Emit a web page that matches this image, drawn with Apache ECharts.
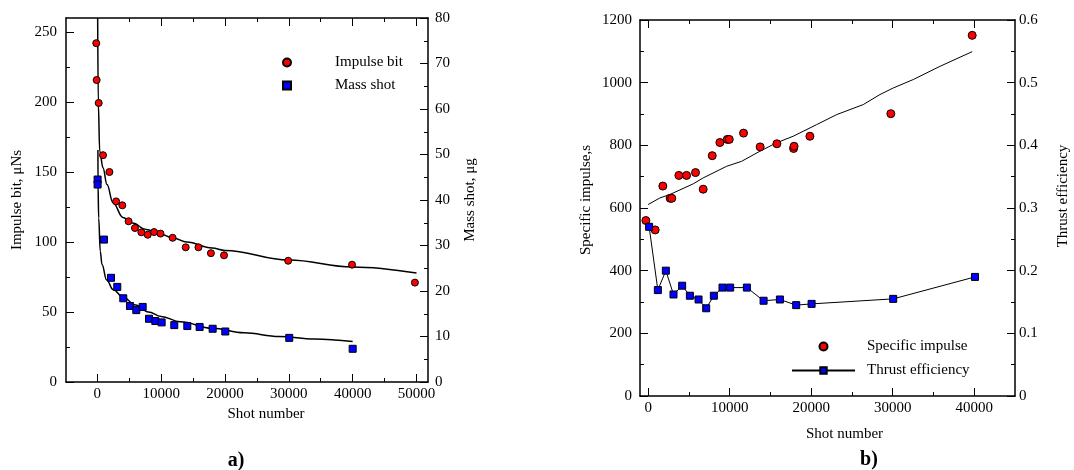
<!DOCTYPE html>
<html>
<head>
<meta charset="utf-8">
<script src="https://cdn.jsdelivr.net/npm/echarts@6/dist/echarts.min.js"></script>
<style>
  html, body { margin: 0; padding: 0; background: #fff; }
  #chart { width: 1074px; height: 470px; }
</style>
</head>
<body>
<div id="chart"></div>
<script>
// ---- panel a) impulse bit / mass shot vs shot number
const impulseShots = [-160, -100, 220, 900, 1900, 2950, 3920, 4900, 5900, 6900, 7900, 8900, 9900, 11800, 13850, 15850, 17800, 19850, 29900, 39900, 49750];
const impulseBit = [242, 215.7, 199.3, 162, 150, 129, 126.2, 114.8, 110, 106.9, 105.2, 107.1, 106, 103, 96.2, 96.2, 92, 90.5, 86.6, 83.8, 71];
const massShots = [50, 50, 1050, 2150, 3130, 4070, 5120, 6110, 7110, 8100, 9090, 10080, 12060, 14100, 16030, 18070, 20050, 30070, 40000];
const massShot = [44.5, 43.4, 31.3, 22.9, 20.9, 18.4, 16.7, 15.8, 16.5, 13.9, 13.4, 13.1, 12.5, 12.3, 12.1, 11.7, 11.1, 9.7, 7.3];
// fitted curves
const impulseFitShots = [60, 160, 380, 890, 1520, 2460, 4030, 5500, 7630, 9820, 12000, 14000, 18000, 20000, 30000, 40000, 50000];
const impulseFit = [260, 199, 165, 153, 141, 128, 117.5, 113.5, 109, 105.8, 102.6, 100, 95.7, 94, 87.2, 82.2, 77.8];
const massFitShots = [100, 110, 220, 470, 740, 1470, 2500, 4000, 6000, 8000, 10000, 13000, 18000, 23000, 28500, 34000, 40000];
const massFit = [51, 43.4, 36, 28.7, 25.8, 22.4, 20.3, 18.7, 16.9, 15.4, 14.4, 13.25, 11.8, 10.8, 10, 9.45, 8.9];

// ---- panel b) specific impulse / thrust efficiency
const ispShots = [-280, 860, 1800, 2700, 2900, 3770, 4710, 5810, 6750, 7860, 8800, 9700, 9950, 11700, 13740, 15790, 17840, 17900, 19840, 29770, 39750];
const ispValues = [560, 530, 670, 631, 631, 704, 704, 713, 660, 767, 809, 819, 819, 839, 795, 805, 790, 797, 829, 901, 1151];
const effShots = [120, 1190, 2170, 3110, 4170, 5120, 6180, 7120, 8060, 9120, 10060, 12110, 14160, 16160, 18160, 20050, 30060, 40090];
const effValues = [0.270, 0.169, 0.200, 0.162, 0.176, 0.160, 0.154, 0.140, 0.160, 0.173, 0.173, 0.173, 0.152, 0.154, 0.145, 0.147, 0.155, 0.190];
const ispTrendShots = [0, 1430, 2660, 5520, 6750, 9620, 11460, 13700, 15750, 17790, 20660, 23120, 26380, 28430, 30060, 32520, 35790, 39750];
const ispTrend = [611, 632, 643, 677, 696, 733, 749, 781, 808, 829, 866, 898, 930, 962, 983, 1010, 1052, 1099];

// tick positions
const xMajorA = [0, 10000, 20000, 30000, 40000, 50000];
const xMinorA = [5000, 15000, 25000, 35000, 45000];
const xMajorB = [0, 10000, 20000, 30000, 40000];
const xMinorB = [5000, 15000, 25000, 35000];
const impulseTicks = [0, 50, 100, 150, 200, 250];
const impulseMinor = [25, 75, 125, 175, 225];
const massTicks = [0, 10, 20, 30, 40, 50, 60, 70, 80];
const massMinor = [5, 15, 25, 35, 45, 55, 65, 75];
const ispTicks = [0, 200, 400, 600, 800, 1000, 1200];
const ispMinor = [100, 300, 500, 700, 900, 1100];
const effTicks = [0, 0.1, 0.2, 0.3, 0.4, 0.5, 0.6];
const effMinor = [0.05, 0.15, 0.25, 0.35, 0.45, 0.55];

const FONT = 'Liberation Serif';
const zip = (xs, ys) => xs.map((x, i) => [x, ys[i]]);

function axis(o) {
  return {
    type: 'value',
    gridIndex: o.grid,
    position: o.pos,
    min: o.min,
    max: o.max,
    splitLine: { show: false },
    axisLine: { show: !!o.line, onZero: false, lineStyle: { color: '#000', width: 1.5 } },
    axisTick: { show: true, inside: true, length: o.len, customValues: o.ticks, lineStyle: { color: '#000', width: 1 } },
    axisLabel: o.labels ? {
      show: true, customValues: o.ticks, formatter: v => String(v),
      color: '#000', fontFamily: FONT, fontSize: 15, margin: o.margin
    } : { show: false },
    name: o.name || '',
    nameLocation: 'middle',
    nameGap: o.gap,
    nameRotate: o.rot,
    nameTextStyle: { color: '#000', fontFamily: FONT, fontSize: 15, padding: o.namePad || 0 }
  };
}

const chart = echarts.init(document.getElementById('chart'));

chart.setOption({
  animation: false,
  grid: [
    { left: 66, top: 18, width: 362, height: 364 },
    { left: 640, top: 20, width: 375, height: 376 }
  ],
  xAxis: [
    axis({ grid: 0, pos: 'bottom', min: -4900, max: 51800, ticks: xMajorA, len: 8, line: true, labels: true, margin: 5,
      name: 'Shot number', gap: 24, namePad: [0, 0, 0, 38] }),
    axis({ grid: 0, pos: 'bottom', min: -4900, max: 51800, ticks: xMinorA, len: 4 }),
    axis({ grid: 0, pos: 'top', min: -4900, max: 51800, ticks: xMajorA, len: 8, line: true }),
    axis({ grid: 0, pos: 'top', min: -4900, max: 51800, ticks: xMinorA, len: 4 }),
    axis({ grid: 1, pos: 'bottom', min: -1000, max: 45000, ticks: xMajorB, len: 8, line: true, labels: true, margin: 5,
      name: 'Shot number', gap: 31, namePad: [0, 0, 0, 34] }),
    axis({ grid: 1, pos: 'bottom', min: -1000, max: 45000, ticks: xMinorB, len: 4 }),
    axis({ grid: 1, pos: 'top', min: -1000, max: 45000, ticks: xMajorB, len: 8, line: true }),
    axis({ grid: 1, pos: 'top', min: -1000, max: 45000, ticks: xMinorB, len: 4 })
  ],
  yAxis: [
    axis({ grid: 0, pos: 'left', min: 0, max: 260, ticks: impulseTicks, len: 8, line: true, labels: true, margin: 9,
      name: 'Impulse bit, \u03bcNs', gap: 41, rot: 90 }),
    axis({ grid: 0, pos: 'left', min: 0, max: 260, ticks: impulseMinor, len: 4 }),
    axis({ grid: 0, pos: 'right', min: 0, max: 80, ticks: massTicks, len: 8, line: true, labels: true, margin: 7,
      name: 'Mass shot, \u03bcg', gap: 35, rot: 90 }),
    axis({ grid: 0, pos: 'right', min: 0, max: 80, ticks: massMinor, len: 4 }),
    axis({ grid: 1, pos: 'left', min: 0, max: 1200, ticks: ispTicks, len: 8, line: true, labels: true, margin: 8,
      name: 'Specific impulse,s', gap: 46, rot: 90, namePad: [0, 0, 0, 16] }),
    axis({ grid: 1, pos: 'left', min: 0, max: 1200, ticks: ispMinor, len: 4 }),
    axis({ grid: 1, pos: 'right', min: 0, max: 0.6, ticks: effTicks, len: 8, line: true, labels: true, margin: 4,
      name: 'Thrust efficiency', gap: 41, rot: 90, namePad: [0, 0, 0, 24] }),
    axis({ grid: 1, pos: 'right', min: 0, max: 0.6, ticks: effMinor, len: 4 })
  ],
  legend: [
    {
      data: ['Impulse bit', 'Mass shot'],
      orient: 'vertical', left: 277, top: 50,
      itemWidth: 8, itemHeight: 8, itemGap: 8,
      textStyle: { color: '#000', fontFamily: FONT, fontSize: 15, padding: [0, 0, 0, 39] }
    },
    {
      data: ['Specific impulse', 'Thrust efficiency'],
      orient: 'vertical', left: 786, top: 334,
      itemWidth: 63, itemHeight: 8, itemGap: 9,
      textStyle: { color: '#000', fontFamily: FONT, fontSize: 15, padding: [0, 0, 0, 7] }
    }
  ],
  graphic: [
    { type: 'text', x: 236, y: 461, style: { text: 'a)', font: 'bold 20px "Liberation Serif"', fill: '#000', align: 'center', verticalAlign: 'middle' } },
    { type: 'text', x: 869, y: 460, style: { text: 'b)', font: 'bold 20px "Liberation Serif"', fill: '#000', align: 'center', verticalAlign: 'middle' } }
  ],
  series: [
    {
      name: 'Impulse bit fit', type: 'line', xAxisIndex: 0, yAxisIndex: 0,
      data: zip(impulseFitShots, impulseFit), showSymbol: false, smooth: 0.4, smoothMonotone: 'x',
      lineStyle: { color: '#000', width: 1.5 }, z: 2
    },
    {
      name: 'Mass shot fit', type: 'line', xAxisIndex: 0, yAxisIndex: 2,
      data: zip(massFitShots, massFit), showSymbol: false, smooth: 0.4, smoothMonotone: 'x',
      lineStyle: { color: '#000', width: 1.5 }, z: 2
    },
    {
      name: 'Impulse bit', type: 'scatter', xAxisIndex: 0, yAxisIndex: 0,
      data: zip(impulseShots, impulseBit), symbol: 'circle', symbolSize: 7,
      itemStyle: { color: '#ff0000', borderColor: '#000', borderWidth: 1, opacity: 1 }, z: 3
    },
    {
      name: 'Mass shot', type: 'scatter', xAxisIndex: 0, yAxisIndex: 2,
      data: zip(massShots, massShot), symbol: 'rect', symbolSize: 7,
      itemStyle: { color: '#0000ff', borderColor: '#000', borderWidth: 1, opacity: 1 }, z: 3
    },
    {
      name: 'Specific impulse trend', type: 'line', xAxisIndex: 4, yAxisIndex: 4,
      data: zip(ispTrendShots, ispTrend), showSymbol: false,
      lineStyle: { color: '#000', width: 1 }, z: 2
    },
    {
      name: 'Specific impulse', type: 'scatter', xAxisIndex: 4, yAxisIndex: 4,
      data: zip(ispShots, ispValues), symbol: 'circle', symbolSize: 8,
      itemStyle: { color: '#ff0000', borderColor: '#000', borderWidth: 1, opacity: 1 }, z: 3
    },
    {
      name: 'Thrust efficiency', type: 'line', xAxisIndex: 4, yAxisIndex: 6,
      data: zip(effShots, effValues), symbol: 'rect', symbolSize: 7, showSymbol: true,
      lineStyle: { color: '#000', width: 1 },
      itemStyle: { color: '#0000ff', borderColor: '#000', borderWidth: 1 }, z: 3
    }
  ]
});
</script>
</body>
</html>
